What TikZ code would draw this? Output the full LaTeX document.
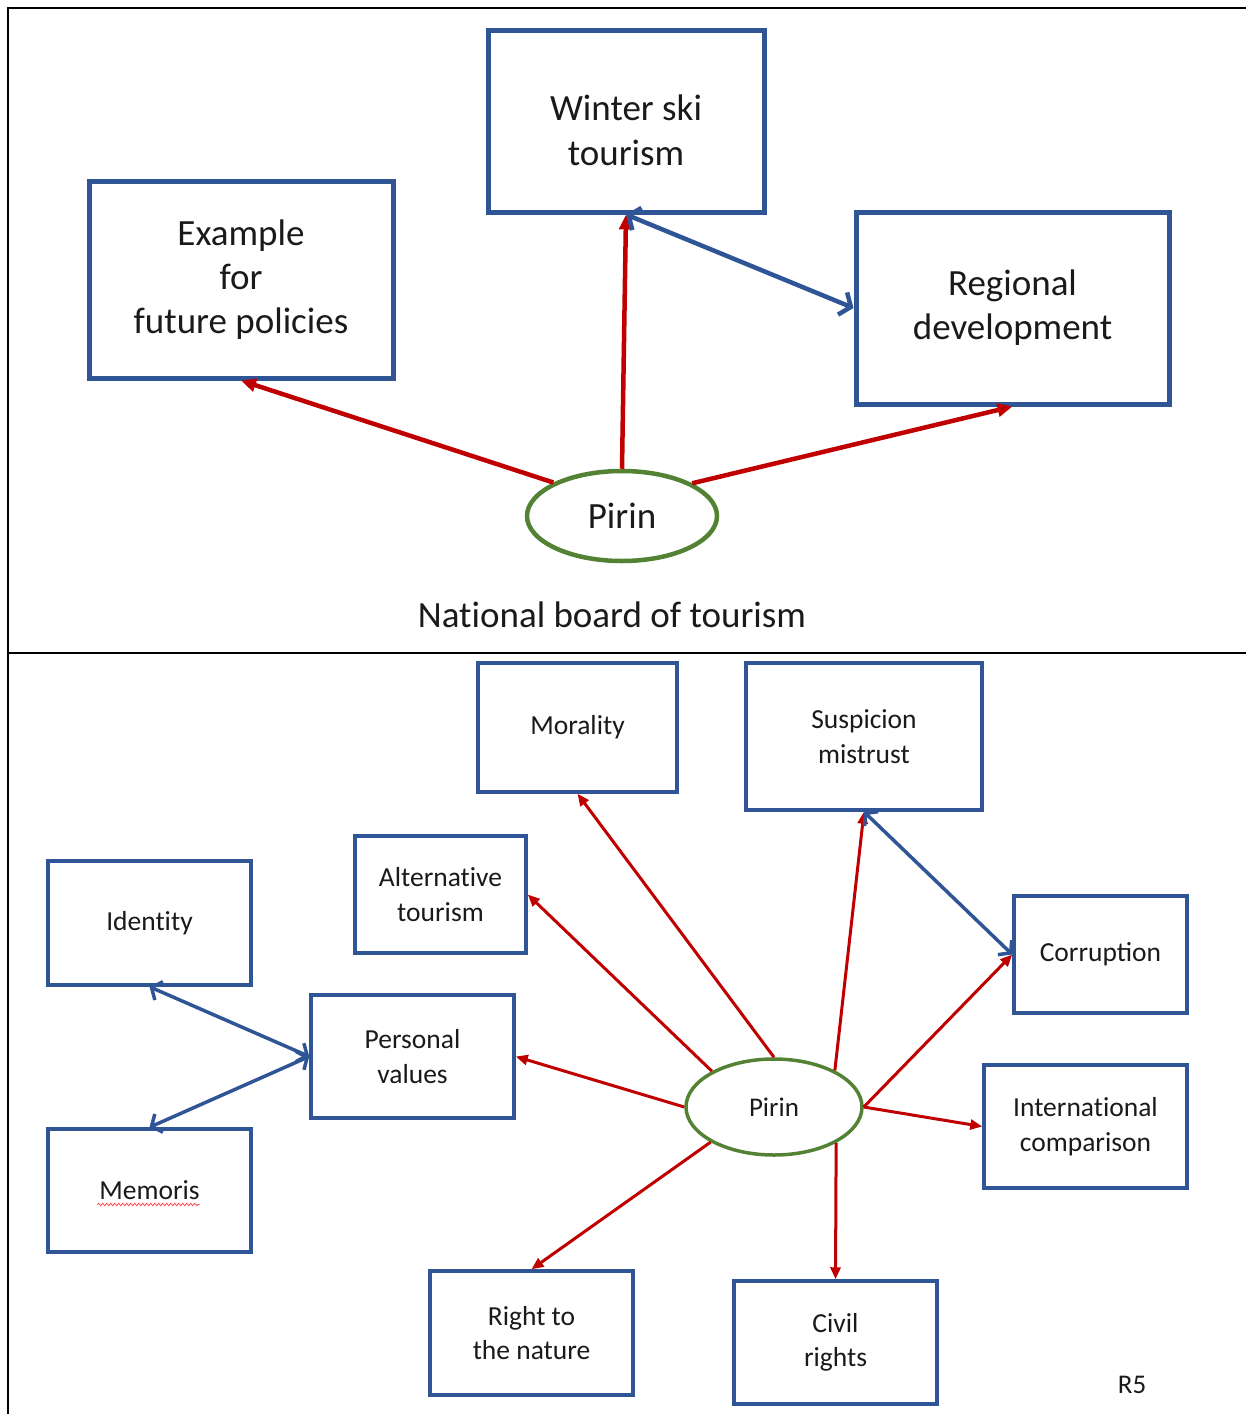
\documentclass[tikz,border=0pt]{standalone}
\usepackage{fontspec}
\setmainfont{Carlito}
\newcommand\nlg{\kern0pt{}}
\usetikzlibrary{arrows.meta,shapes.geometric,calc,decorations.pathmorphing}
\definecolor{boxblue}{HTML}{2F5597}
\definecolor{arrred}{HTML}{C00000}
\definecolor{pgreen}{HTML}{548235}
\definecolor{txt}{HTML}{1A1A1A}
\begin{document}
\begin{tikzpicture}[x=1pt,y=-1pt,
  bigbox/.style={draw=boxblue,line width=5pt,inner sep=0pt,align=center,text=txt,font=\fontsize{37}{44}\selectfont},
  smallbox/.style={draw=boxblue,line width=3.5pt,inner sep=0pt,align=center,text=txt,font=\fontsize{27.5}{34.5}\selectfont},
  bigpirin/.style={ellipse,draw=pgreen,line width=4.5pt,inner sep=0pt,minimum width=190pt,minimum height=90pt,text=txt,font=\fontsize{37}{44}\selectfont},
  smallpirin/.style={ellipse,draw=pgreen,line width=3.5pt,inner sep=0pt,minimum width=176pt,minimum height=96pt,text=txt,font=\fontsize{27}{32}\selectfont},
  bigred/.style={draw=arrred,line width=4.5pt,-{Triangle[length=15pt,width=13pt]}},
  smallred/.style={draw=arrred,line width=3pt,-{Triangle[length=12pt,width=10pt]}},
  bigblue/.style={draw=boxblue,line width=4.5pt,{Straight Barb[length=9pt,width=24pt]}-{Straight Barb[length=9pt,width=24pt]}},
  smallblue/.style={draw=boxblue,line width=3.5pt,{Straight Barb[length=8pt,width=20pt]}-{Straight Barb[length=8pt,width=20pt]}},
  frame/.style={draw=black,line width=2pt},
  plain/.style={text=txt,inner sep=0pt}
]
\useasboundingbox (0,0) rectangle (1246,1414);
% frame
\draw[frame] (8,1414) -- (8,8) -- (1246,8);
\draw[frame] (8,653) -- (1246,653);

% ---- top panel ----
\node[bigbox,minimum width=276pt,minimum height=182pt,
  label={[plain,align=center,font=\fontsize{37}{45}\selectfont,yshift=-9pt]center:Winter ski\\tourism}] (winter) at (626,121) {};
\node[bigbox,minimum width=304pt,minimum height=197pt] (example) at (241,279.5) {Example\\for\\future policies};
\node[bigbox,minimum width=313pt,minimum height=192pt] (regional) at (1012.5,308) {Regional\\development};
\node[bigpirin] (pirin) at (622,516) {Pirin};
\node[plain,font=\fontsize{37}{44}\selectfont] (nbt) at (612,615) {Nat\nlg ional board of tourism};

\draw[bigred] (pirin.154) -- (example.south);
\draw[bigred] (pirin.north) -- (winter.south);
\draw[bigred] (pirin.25) -- (regional.south);
\draw[bigblue] (winter.south) -- (regional.west);

% ---- bottom panel ----
\node[smallbox,minimum width=199pt,minimum height=129pt] (morality) at (577.5,727.5) {Morality};
\node[smallbox,minimum width=236pt,minimum height=147pt] (suspicion) at (864,736.5) {Suspicion\\mistrust};
\node[smallbox,minimum width=171pt,minimum height=117pt] (alternative) at (440.5,894.5) {Alternat\nlg ive\\tourism};
\node[smallbox,minimum width=203pt,minimum height=124pt] (identity) at (149.5,923) {Ident\nlg ity};
\node[smallbox,minimum width=173pt,minimum height=117pt] (corruption) at (1100.5,954.5) {Corruption};
\node[smallbox,minimum width=203pt,minimum height=123pt] (personal) at (412.5,1056.5) {Personal\\values};
\node[smallpirin] (pirin2) at (774,1107) {Pirin};
\node[smallbox,minimum width=203pt,minimum height=123pt] (international) at (1085.5,1126.5) {Internat\nlg ional\\comparison};
\node[smallbox,minimum width=203pt,minimum height=123pt] (memoris) at (149.5,1190.5) {Memoris};
\node[smallbox,minimum width=203pt,minimum height=124pt] (right) at (531.5,1333) {Right to\\the nature};
\node[smallbox,minimum width=203pt,minimum height=123pt] (civil) at (835.5,1342.5) {Civil\\rights};
\node[plain,font=\fontsize{27}{30}\selectfont] (r5) at (1132,1385) {R5};

% spell-check squiggle under Memoris
\draw[red!70,line width=0.8pt,decorate,decoration={snake,amplitude=1.2pt,segment length=4pt}]
  ($(memoris.center)+(-52,14)$) -- ($(memoris.center)+(50,14)$);

\draw[smallred] (pirin2.north) -- (morality.south);
\draw[smallred] (pirin2.31) -- (suspicion.south);
\draw[smallred] (pirin2.150) -- (alternative.east);
\draw[smallred] (pirin2.east) -- (corruption.west);
\draw[smallred] (pirin2.west) -- (personal.east);
\draw[smallred] (pirin2.east) -- (international.west);
\draw[smallred] (pirin2.209) -- (right.north);
\draw[smallred] (pirin2.330) -- (civil.north);

\draw[smallblue] (suspicion.south) -- (corruption.west);
\draw[smallblue] (identity.south) -- (personal.west);
\draw[smallblue] (memoris.north) -- (personal.west);
\end{tikzpicture}
\end{document}
